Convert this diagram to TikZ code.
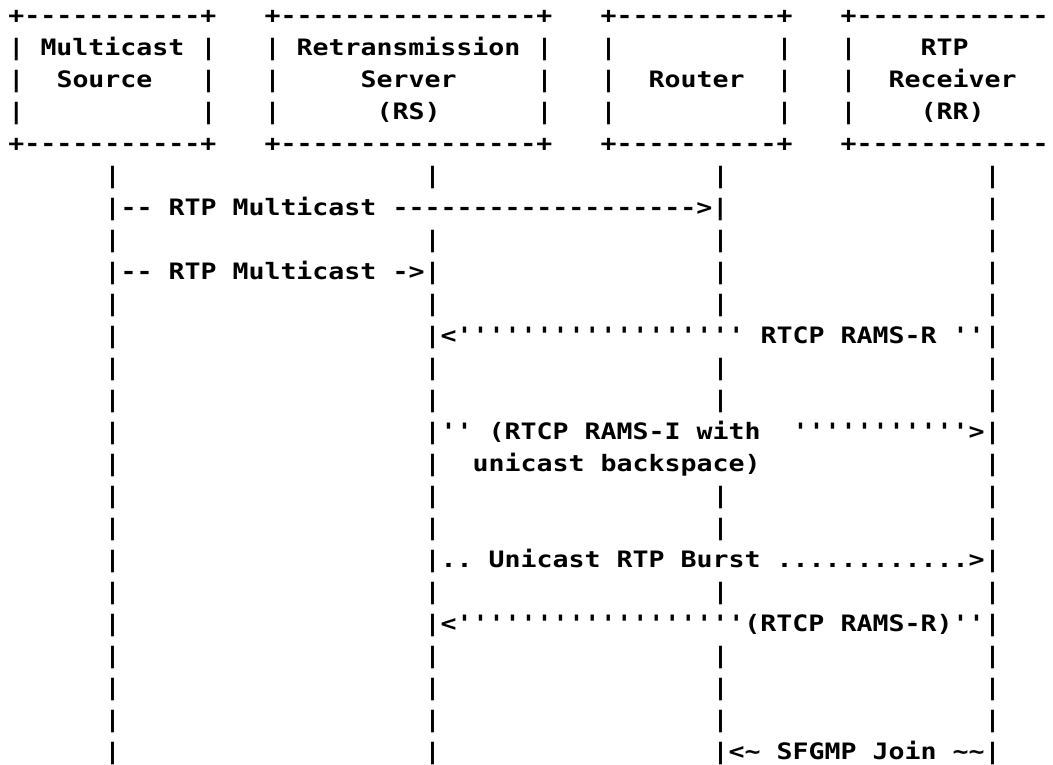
\documentclass[tikz,border=0pt]{standalone}
\usepackage{fontspec}
\setmonofont{DejaVu Sans Mono}[FakeStretch=1.176]
\tikzset{asc/.style={anchor=base west, inner sep=0pt, outer sep=0pt,
  font=\ttfamily\bfseries\fontsize{22.6}{32}\selectfont, text=black}}
% token at row #1, column #2
\newcommand\tk[3]{\node[asc] (r#1c#2) at ({8.5+16*#2},{-(23+32*#1)}) {#3};}
\newcommand\tl{\textasciitilde}
\begin{document}
\begin{tikzpicture}[x=1pt,y=1pt]
\fill[white] (0,0) rectangle (1053,-764);
\useasboundingbox (0,0) rectangle (1053,-764);
% ---- header boxes ----
\foreach \r in {0,4} {
  \tk{\r}{0}{+-----------+}
  \tk{\r}{16}{+----------------+}
  \tk{\r}{37}{+----------+}
  \tk{\r}{52}{+------------}
}
\foreach \r in {1,2,3} {
  \foreach \c in {0,12,16,33,37,48,52} {\tk{\r}{\c}{|}}
}
\tk{1}{2}{Multicast}
\tk{1}{18}{Retransmission}
\tk{1}{57}{RTP}
\tk{2}{3}{Source}
\tk{2}{22}{Server}
\tk{2}{40}{Router}
\tk{2}{55}{Receiver}
\tk{3}{23}{(RS)}
\tk{3}{57}{(RR)}
% ---- lifelines ----
\foreach \r in {5,7,9,11,12,15,16,18,20,21,22} {
  \foreach \c in {6,26,44,61} {\tk{\r}{\c}{|}}
}
% row 6
\tk{6}{6}{|--}
\tk{6}{10}{RTP}
\tk{6}{14}{Multicast}
\tk{6}{24}{------------------->|}
\tk{6}{61}{|}
% row 8
\tk{8}{6}{|--}
\tk{8}{10}{RTP}
\tk{8}{14}{Multicast}
\tk{8}{24}{->|}
\tk{8}{44}{|}
\tk{8}{61}{|}
% row 10
\tk{10}{6}{|}
\tk{10}{26}{|<''''''''''''''''''}
\tk{10}{47}{RTCP}
\tk{10}{52}{RAMS-R}
\tk{10}{59}{''|}
% row 13
\tk{13}{6}{|}
\tk{13}{26}{|''}
\tk{13}{30}{(RTCP}
\tk{13}{36}{RAMS-I}
\tk{13}{43}{with}
\tk{13}{49}{'''''''''''>|}
% row 14
\tk{14}{6}{|}
\tk{14}{26}{|}
\tk{14}{29}{unicast}
\tk{14}{37}{backspace)}
\tk{14}{61}{|}
% row 17
\tk{17}{6}{|}
\tk{17}{26}{|..}
\tk{17}{30}{Unicast}
\tk{17}{38}{RTP}
\tk{17}{42}{Burst}
\tk{17}{48}{............>|}
% row 19
\tk{19}{6}{|}
\tk{19}{26}{|<''''''''''''''''''(RTCP}
\tk{19}{52}{RAMS-R)''|}
% row 23
\tk{23}{6}{|}
\tk{23}{26}{|}
\tk{23}{44}{|<\tl}
\tk{23}{48}{SFGMP}
\tk{23}{54}{Join}
\tk{23}{59}{\tl\tl|}
\end{tikzpicture}
\end{document}
